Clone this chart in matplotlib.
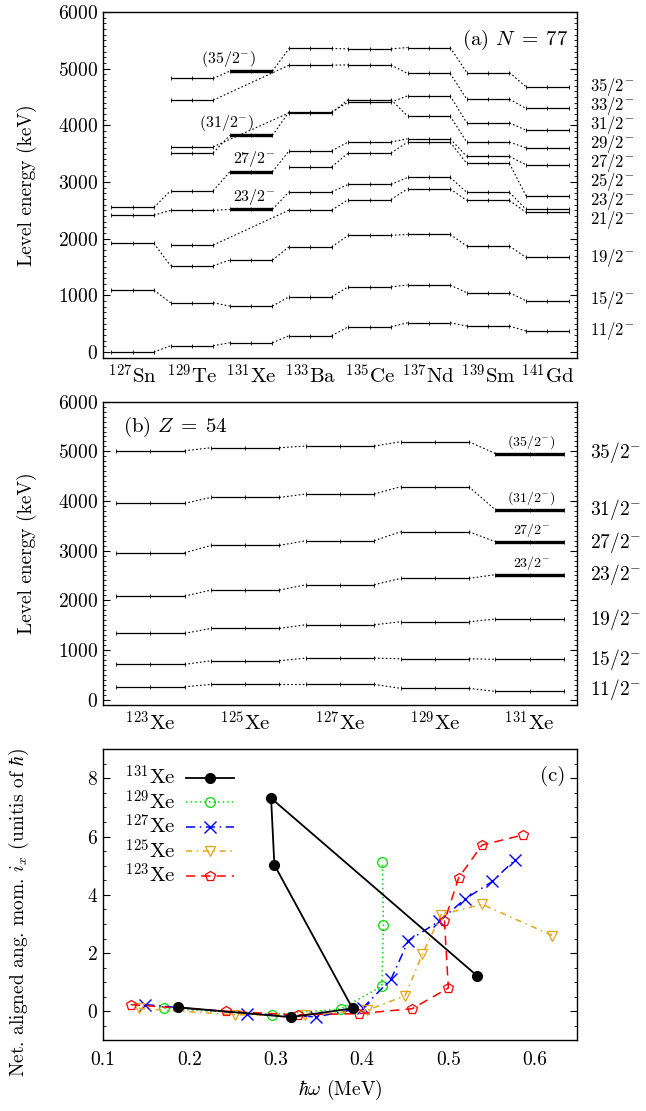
import matplotlib
matplotlib.use("Agg")
import matplotlib.pyplot as plt
import matplotlib.transforms as mtransforms
from matplotlib.ticker import MultipleLocator

plt.rcParams['font.family'] = ['cmr10', 'DejaVu Serif']
plt.rcParams['mathtext.fontset'] = 'cm'
plt.rcParams['axes.unicode_minus'] = False
plt.rcParams['axes.formatter.use_mathtext'] = True

# ---------------- Panel (a): N = 77 isotones ----------------
nuclei_a = [r'$^{127}$Sn', r'$^{129}$Te', r'$^{131}$Xe', r'$^{133}$Ba',
            r'$^{135}$Ce', r'$^{137}$Nd', r'$^{139}$Sm', r'$^{141}$Gd']
spins_a = ['35/2', '33/2', '31/2', '29/2', '27/2', '25/2', '23/2', '21/2', '19/2', '15/2', '11/2']
E35_a = [None, 4827, 4956, 5356, 5350, 5373, 4932, 4680]
E33_a = [None, 4444, None, 5062, 5067, 4915, 4462, 4298]
E31_a = [None, 3515, 3822, 4238, 4409, 4520, 4044, 3915]
E29_a = [None, 3621, None, 4220, 4456, 4162, 3704, 3603]
E27_a = [2552, 2845, 3180, 3550, 3707, 3762, 3451, 3304]
E25_a = [None, None, None, 3268, 3512, 3704, 3327, 2757]
E23_a = [2416, 2499, 2517, 2827, 2958, 3081, 2817, 2517]
E21_a = [None, 1887, None, 2504, 2690, 2880, 2675, 2464]
E19_a = [1917, 1522, 1623, 1857, 2058, 2076, 1870, 1670]
E15_a = [1093, 870, 811, 975, 1152, 1182, 1046, 905]
E11_a = [0, 111, 165, 288, 446, 517, 459, 370]
levels_a = [E35_a, E33_a, E31_a, E29_a, E27_a, E25_a, E23_a, E21_a, E19_a, E15_a, E11_a]
spin_label_y_a = [4680, 4340, 4000, 3670, 3340, 3000, 2670, 2330, 1663, 917, 370]
# highlighted (thick) levels in 131Xe with labels
thick_a_spins = ['35/2', '31/2', '27/2', '23/2']
thick_a_labels = [r'$(35/2^{-})$', r'$(31/2^{-})$', r'$27/2^{-}$', r'$23/2^{-}$']

# ---------------- Panel (b): Z = 54 isotopes ----------------
nuclei_b = [r'$^{123}$Xe', r'$^{125}$Xe', r'$^{127}$Xe', r'$^{129}$Xe', r'$^{131}$Xe']
spins_b = ['35/2', '31/2', '27/2', '23/2', '19/2', '15/2', '11/2']
E35_b = [5012, 5073, 5107, 5194, 4956]
E31_b = [3952, 4073, 4140, 4287, 3822]
E27_b = [2957, 3106, 3200, 3381, 3180]
E23_b = [2085, 2206, 2313, 2441, 2517]
E19_b = [1333, 1434, 1507, 1567, 1623]
E15_b = [709, 782, 836, 822, 811]
E11_b = [258, 306, 306, 226, 165]
levels_b = [E35_b, E31_b, E27_b, E23_b, E19_b, E15_b, E11_b]
spin_label_y_b = [4972, 3837, 3159, 2528, 1622, 816, 211]
thick_b_spins = ['35/2', '31/2', '27/2', '23/2']
thick_b_labels = [r'$(35/2^{-})$', r'$(31/2^{-})$', r'$27/2^{-}$', r'$23/2^{-}$']

# ---------------- Panel (c): aligned angular momentum ----------------
hw_131 = [0.1865, 0.3175, 0.389, 0.2985, 0.2947, 0.5337]
ix_131 = [0.14, -0.20, 0.10, 5.03, 7.32, 1.21]
hw_129 = [0.171, 0.2955, 0.3754, 0.423, 0.4248, 0.4237]
ix_129 = [0.10, -0.11, 0.08, 0.86, 2.97, 5.14]
hw_127 = [0.149, 0.2665, 0.347, 0.401, 0.4337, 0.4538, 0.4897, 0.519, 0.551, 0.577]
ix_127 = [0.23, -0.08, -0.19, 0.12, 1.11, 2.43, 3.10, 3.85, 4.46, 5.20]
hw_125 = [0.1417, 0.253, 0.334, 0.4055, 0.450, 0.470, 0.4917, 0.5388, 0.6206]
ix_125 = [0.10, -0.12, -0.12, 0.03, 0.54, 1.97, 3.32, 3.68, 2.60]
hw_123 = [0.1324, 0.242, 0.3256, 0.396, 0.458, 0.500, 0.4955, 0.512, 0.539, 0.587]
ix_123 = [0.23, 0.0, -0.12, -0.08, 0.09, 0.80, 3.09, 4.59, 5.71, 6.06]

HW = 0.36
FS = 14
FS_SPIN_A = 12


def draw_levels(ax, levels, spins, thick_spins, thick_idx, thick_lw):
    for spin, E in zip(spins, levels):
        prev = None
        for i, e in enumerate(E):
            if e is None:
                continue
            thick = (spin in thick_spins) and (i == thick_idx)
            ax.plot([i - HW, i, i + HW], [e, e, e], color='black',
                    lw=thick_lw if thick else 0.9,
                    marker='|', ms=2.5, mew=0.6, solid_capstyle='butt', zorder=3)
            if prev is not None:
                j, ej = prev
                ax.plot([j + HW, i - HW], [ej, e], color='black', lw=0.8,
                        ls=(0, (1.5, 2.0)), zorder=2)
            prev = (i, e)


def style_level_axis(ax, n, labels):
    ax.set_xlim(-0.5, n - 0.5)
    ax.set_ylim(-110, 6000)
    ax.set_xticks(range(n))
    ax.set_xticklabels(labels, fontsize=FS + 1)
    ax.tick_params(axis='x', length=0, pad=4)
    ax.yaxis.set_major_locator(MultipleLocator(1000))
    ax.yaxis.set_minor_locator(MultipleLocator(100))
    ax.tick_params(axis='y', which='both', direction='in', left=True, right=True, labelsize=FS)
    ax.tick_params(axis='y', which='major', length=5, width=0.8)
    ax.tick_params(axis='y', which='minor', length=2.5, width=0.6)
    ax.set_ylabel('Level energy (keV)', fontsize=FS)
    ax.yaxis.set_label_coords(-0.14, 0.5)
    for s in ax.spines.values():
        s.set_linewidth(1.0)


fig = plt.figure(figsize=(6.46, 11.11), dpi=100)
axa = fig.add_axes([0.1594, 0.6775, 0.7338, 0.3117])
axb = fig.add_axes([0.1594, 0.3654, 0.7338, 0.2730])
axc = fig.add_axes([0.1594, 0.0635, 0.7338, 0.2621])

# ---- panel a ----
draw_levels(axa, levels_a, spins_a, thick_a_spins, 2, 2.4)
style_level_axis(axa, len(nuclei_a), nuclei_a)
tr_a = mtransforms.blended_transform_factory(axa.transAxes, axa.transData)
for lab, y in zip(spins_a, spin_label_y_a):
    axa.text(1.027, y, r'$%s^{-}$' % lab, transform=tr_a, fontsize=FS_SPIN_A,
             va='center', ha='left')
thick_a_xoff = [-0.38, -0.42, 0.06, 0.06]
for sp, lab, dx in zip(thick_a_spins, thick_a_labels, thick_a_xoff):
    e = levels_a[spins_a.index(sp)][2]
    axa.text(2 + dx, e + 45, lab, fontsize=11.5, ha='center', va='bottom')
axa.text(0.983, 0.92, r'(a) $N\;=\;77$', transform=axa.transAxes, fontsize=FS + 1,
         ha='right', va='center')

# ---- panel b ----
draw_levels(axb, levels_b, spins_b, thick_b_spins, 4, 2.4)
style_level_axis(axb, len(nuclei_b), nuclei_b)
tr_b = mtransforms.blended_transform_factory(axb.transAxes, axb.transData)
for lab, y in zip(spins_b, spin_label_y_b):
    axb.text(1.027, y, r'$%s^{-}$' % lab, transform=tr_b, fontsize=FS, va='center', ha='left')
for sp, lab in zip(thick_b_spins, thick_b_labels):
    e = levels_b[spins_b.index(sp)][4]
    axb.text(4.02, e + 60, lab, fontsize=10, ha='center', va='bottom')
axb.text(0.042, 0.917, r'(b) $Z\;=\;54$', transform=axb.transAxes, fontsize=FS + 1,
         ha='left', va='center')

# ---- panel c ----
c_green = '#00dd00'
c_orange = '#e6a418'
axc.plot(hw_131, ix_131, color='black', lw=1.3, marker='o', ms=7, mfc='black',
         mec='black', label=r'$^{131}$Xe', zorder=5)
axc.plot(hw_129, ix_129, color=c_green, lw=1.1, ls=(0, (1, 2)), marker='o', ms=7,
         mfc='none', mec=c_green, mew=0.9, label=r'$^{129}$Xe')
axc.plot(hw_127, ix_127, color='blue', lw=1.1, ls=(0, (6, 3, 1, 3)), marker='x', ms=8,
         mec='blue', mew=1.0, label=r'$^{127}$Xe')
axc.plot(hw_125, ix_125, color=c_orange, lw=1.1, ls=(0, (4, 3, 1, 3)), marker='v', ms=7,
         mfc='none', mec=c_orange, mew=0.9, label=r'$^{125}$Xe')
axc.plot(hw_123, ix_123, color='red', lw=1.1, ls=(0, (6, 4)), marker='p', ms=7.5,
         mfc='none', mec='red', mew=0.9, label=r'$^{123}$Xe')
axc.set_xlim(0.1, 0.649)
axc.set_ylim(-1, 9)
axc.set_xticks([0.1, 0.2, 0.3, 0.4, 0.5, 0.6])
axc.set_xticklabels(['0.1', '0.2', '0.3', '0.4', '0.5', '0.6'])
axc.tick_params(axis='x', length=0, pad=8, labelsize=FS)
axc.yaxis.set_major_locator(MultipleLocator(2))
axc.yaxis.set_minor_locator(MultipleLocator(0.5))
axc.tick_params(axis='y', which='both', direction='in', left=True, right=True, labelsize=FS)
axc.tick_params(axis='y', which='major', length=5, width=0.8)
axc.tick_params(axis='y', which='minor', length=2.5, width=0.6)
axc.set_xlabel(r'$\hbar\omega$ (MeV)', fontsize=FS)
axc.set_ylabel(r'Net. aligned ang. mom. $i_x$ (unitis of $\hbar$)', fontsize=FS)
axc.yaxis.set_label_coords(-0.152, 0.44)
axc.xaxis.set_label_coords(0.5, -0.13)
axc.text(0.975, 0.91, '(c)', transform=axc.transAxes, fontsize=FS + 1, ha='right', va='center')
leg = axc.legend(loc='upper left', bbox_to_anchor=(0.02, 0.99), frameon=False,
                 markerfirst=False, fontsize=FS + 1, handlelength=2.3,
                 labelspacing=0.02, handletextpad=0.5, borderaxespad=0.2)
for s in axc.spines.values():
    s.set_linewidth(1.0)

fig.savefig('out.png', dpi=100)
